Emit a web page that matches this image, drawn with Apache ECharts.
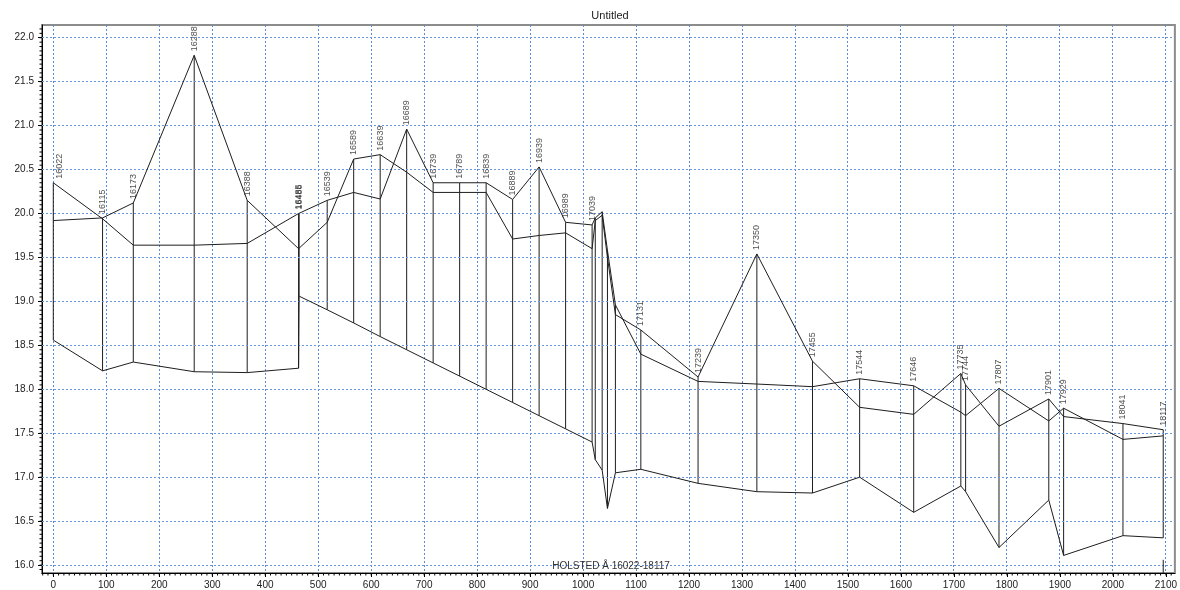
<!DOCTYPE html>
<html>
<head>
<meta charset="utf-8">
<title>Untitled</title>
<script src="https://cdn.jsdelivr.net/npm/echarts@6/dist/echarts.min.js"></script>
<style>
  html, body { margin: 0; padding: 0; background: #ffffff; }
  #chart { width: 1180px; height: 590px; }
</style>
</head>
<body>
<div id="chart"></div>
<script>
// Longitudinal profile, Holsted Å, chainage 16022-18117
const startChainage = 16022;
const chainages = [16022, 16115, 16173, 16288, 16388, 16485, 16486, 16539, 16589, 16639,
  16689, 16739, 16789, 16839, 16889, 16939, 16989, 17039, 17045, 17058,
  17068, 17083, 17131, 17239, 17350, 17455, 17544, 17646, 17735, 17744,
  17807, 17901, 17929, 18041, 18117];
const sectionNames = ['16022', '16115', '16173', '16288', '16388', '16485', '16486', '16539', '16589', '16639',
  '16689', '16739', '16789', '16839', '16889', '16939', '16989', '17039', '', '',
  '', '', '17131', '17239', '17350', '17455', '17544', '17646', '17735', '17744',
  '17807', '17901', '17929', '18041', '18117'];
// bank levels (two banks) and bed level per cross section
const leftBank = [20.35, 19.94, 19.64, 19.64, 19.66, 20.00, 20.00, 20.15, 20.24, 20.165,
  20.96, 20.35, 20.35, 20.35, 20.16, 20.53, 19.90, 19.87, 19.95, 20.02,
  19.58, 18.96, 18.40, 18.09, 18.06, 18.03, 18.12, 18.04, 17.74, 17.70,
  18.01, 17.64, 17.785, 17.43, 17.47];
const rightBank = [19.92, 19.95, 20.12, 21.80, 20.15, 19.60, 19.60, 19.90, 20.62, 20.67,
  20.47, 20.24, 20.24, 20.24, 19.71, 19.75, 19.78, 19.60, 19.92, 19.98,
  19.50, 18.85, 18.675, 18.14, 19.54, 18.32, 17.795, 17.715, 18.18, 18.05,
  17.58, 17.89, 17.69, 17.61, 17.54];
const bedLevel = [18.56, 18.21, 18.31, 18.20, 18.19, 18.24, 19.06, 18.905, 18.755, 18.60,
  18.45, 18.30, 18.15, 18.00, 17.85, 17.70, 17.55, 17.40, 17.20, 17.08,
  16.645, 17.05, 17.09, 16.93, 16.835, 16.82, 17.00, 16.60, 16.90, 16.835,
  16.20, 16.74, 16.11, 16.335, 16.31];
// end-of-branch marker
const endMarker = [[2095, 15.91], [2095, 16.06]];

const xTicks = [];
for (let v = 0; v <= 2100; v += 100) xTicks.push(v);
const xMinorTicks = [];
for (let v = -20; v <= 2110; v += 10) xMinorTicks.push(v);
const yTicks = [];
for (let v = 16; v <= 22.0001; v += 0.5) yTicks.push(+v.toFixed(2));
const yMinorTicks = [];
for (let v = 15.95; v <= 22.1401; v += 0.05) yMinorTicks.push(+v.toFixed(2));

const X_MIN = -21.3, X_MAX = 2117, Y_MIN = 15.91, Y_MAX = 22.145;

const dist = chainages.map(c => c - startChainage);
const toLine = arr => dist.map((d, i) => [d, arr[i]]);
const verticals = dist.map((d, i) => [d, Math.max(leftBank[i], rightBank[i]), bedLevel[i]]);
const labelPoints = [];
dist.forEach((d, i) => {
  if (!sectionNames[i]) return;
  const item = { value: [d, Math.max(leftBank[i], rightBank[i])], name: sectionNames[i] };
  if (i === 0) item.label = { offset: [0, 6] };   // keep the first name clear of the axis
  labelPoints.push(item);
});

const FONT = 'Liberation Sans, Arial, sans-serif';
const profileStyle = { color: '#1e1e1e', width: 1 };

// horizontal dotted grid lines as mark lines at the tick values
const hGridLines = yTicks.map(v => ({ yAxis: v }));

// short tick marks drawn outside the plot area
function tickRenderer(dir, len) {
  return function (params, api) {
    const p = dir === 'x' ? api.coord([api.value(0), Y_MIN]) : api.coord([X_MIN, api.value(0)]);
    const shape = dir === 'x'
      ? { x1: p[0], y1: p[1], x2: p[0], y2: p[1] + len }
      : { x1: p[0], y1: p[1], x2: p[0] - len, y2: p[1] };
    return { type: 'line', shape: shape, style: { stroke: '#000', lineWidth: 1 } };
  };
}

const chart = echarts.init(document.getElementById('chart'), null, { renderer: 'canvas' });
chart.setOption({
  animation: false,
  backgroundColor: '#ffffff',
  grid: {
    left: 42, right: 1, top: 25, bottom: 17,
    show: true, borderColor: '#8c8c8c', borderWidth: 2, backgroundColor: 'transparent'
  },
  graphic: [
    { type: 'text', x: 610, y: 16, z: 100,
      style: { text: 'Untitled', font: '11px ' + FONT, fill: '#222', align: 'center', verticalAlign: 'middle' } },
    { type: 'text', x: 611, y: 566, z: 100,
      style: { text: 'HOLSTED Å 16022-18117', font: '10px ' + FONT, fill: '#333', align: 'center', verticalAlign: 'middle' } }
  ],
  xAxis: {
    type: 'value', min: X_MIN, max: X_MAX, position: 'bottom',
    axisLine: { show: true, onZero: false, lineStyle: { color: '#000', width: 1 } },
    axisTick: { show: true, customValues: xTicks, length: 4, lineStyle: { color: '#000' } },
    axisLabel: { customValues: xTicks, color: '#222', fontFamily: FONT, fontSize: 10, margin: 7,
      formatter: v => String(Math.round(v)) },
    splitLine: { show: false }
  },
  yAxis: {
    type: 'value', min: Y_MIN, max: Y_MAX, position: 'left',
    axisLine: { show: true, onZero: false, lineStyle: { color: '#000', width: 1 } },
    axisTick: { show: true, customValues: yTicks, length: 4, lineStyle: { color: '#000' } },
    axisLabel: { customValues: yTicks, color: '#222', fontFamily: FONT, fontSize: 10, margin: 8,
      formatter: v => v.toFixed(1) },
    splitLine: { show: false }
  },
  series: [
    {
      name: 'Horizontal grid', type: 'line', data: [[X_MIN, Y_MIN]], symbol: 'none',
      lineStyle: { opacity: 0 }, z: 1, silent: true,
      markLine: {
        silent: true, symbol: ['none', 'none'], label: { show: false },
        lineStyle: { type: [2, 2], width: 1, color: '#6a97d8' },
        emphasis: { disabled: true },
        data: hGridLines
      }
    },
    {
      // vertical dotted grid lines, snapped to whole pixels
      name: 'Vertical grid', type: 'custom', data: xTicks.map(v => [v]), z: 1, silent: true,
      encode: { x: 0 },
      renderItem: function (params, api) {
        const top = api.coord([api.value(0), Y_MAX]);
        const bottom = api.coord([api.value(0), Y_MIN]);
        const x = Math.floor(top[0]) + 0.5;
        return {
          type: 'line',
          shape: { x1: x, y1: top[1], x2: x, y2: bottom[1] },
          style: { stroke: '#5a8ad3', lineWidth: 1, lineDash: [2, 2] }
        };
      }
    },
    {
      name: 'Minor x ticks', type: 'custom', data: xMinorTicks.map(v => [v]), clip: false, z: 3,
      encode: { x: 0 }, renderItem: tickRenderer('x', 2.5), silent: true
    },
    {
      name: 'Minor y ticks', type: 'custom', data: yMinorTicks.map(v => [v]), clip: false, z: 3,
      encode: { y: 0 }, renderItem: tickRenderer('y', 2.5), silent: true
    },
    {
      name: 'Left bank', type: 'line', data: toLine(leftBank), symbol: 'none',
      lineStyle: profileStyle, z: 5
    },
    {
      name: 'Right bank', type: 'line', data: toLine(rightBank), symbol: 'none',
      lineStyle: profileStyle, z: 5
    },
    {
      name: 'Bed level', type: 'line', data: toLine(bedLevel), symbol: 'none',
      lineStyle: profileStyle, z: 5
    },
    {
      name: 'Cross sections', type: 'custom', data: verticals, z: 4,
      encode: { x: 0, y: [1, 2] },
      renderItem: function (params, api) {
        const x = api.value(0);
        const p1 = api.coord([x, api.value(1)]);
        const p2 = api.coord([x, api.value(2)]);
        return {
          type: 'line',
          shape: { x1: p1[0], y1: p1[1], x2: p2[0], y2: p2[1] },
          style: { stroke: '#1e1e1e', lineWidth: 1 }
        };
      }
    },
    {
      name: 'End marker', type: 'line', data: endMarker, symbol: 'none',
      lineStyle: profileStyle, z: 5
    },
    {
      name: 'Section names', type: 'scatter', data: labelPoints, symbolSize: 0, z: 6,
      label: {
        show: true, position: 'top', distance: 4, rotate: 90,
        align: 'left', verticalAlign: 'middle',
        formatter: p => p.name,
        color: '#222', fontFamily: FONT, fontSize: 9
      }
    }
  ]
});
</script>
</body>
</html>
